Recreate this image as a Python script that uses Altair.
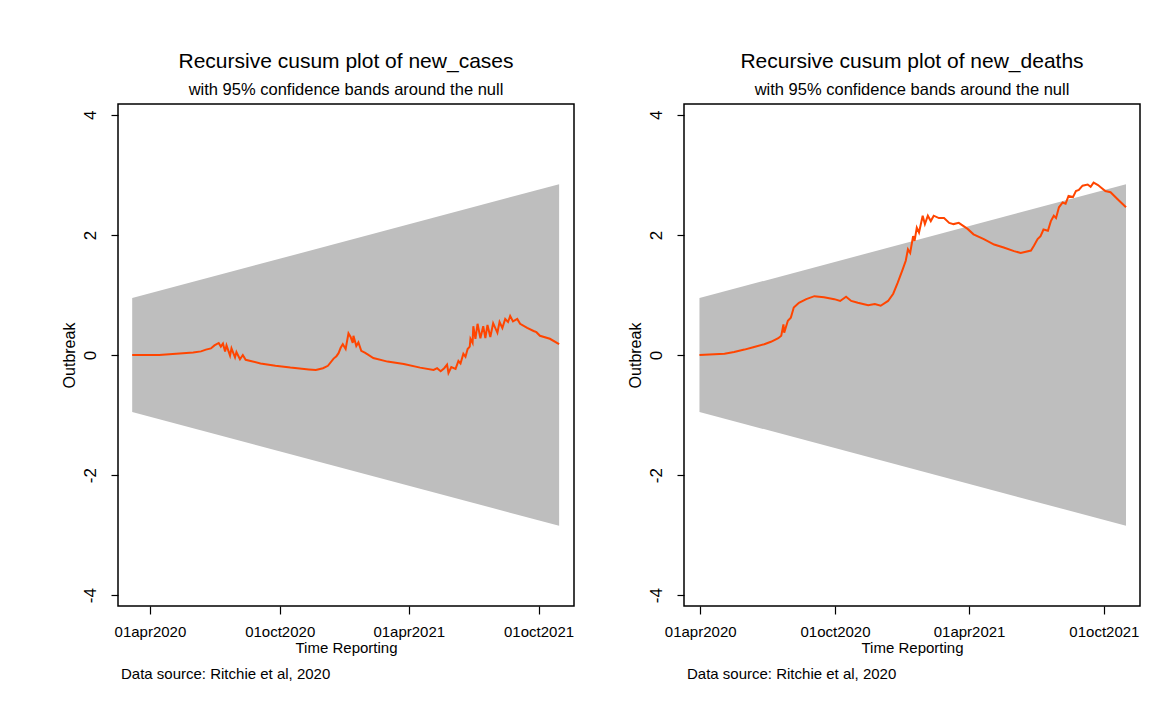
import altair as alt
import pandas as pd

FONT = "Liberation Sans, Arial, Helvetica, sans-serif"

# ---------------- data ----------------
cases_dates = [
    "2020-03-07", "2020-03-26", "2020-04-14", "2020-05-08", "2020-06-01", "2020-06-12",
    "2020-06-19", "2020-06-26", "2020-07-01", "2020-07-07", "2020-07-10", "2020-07-13",
    "2020-07-16", "2020-07-18", "2020-07-23", "2020-07-25", "2020-07-30", "2020-08-01",
    "2020-08-06", "2020-08-10", "2020-08-14", "2020-08-21", "2020-09-04", "2020-09-25",
    "2020-10-16", "2020-11-11", "2020-11-21", "2020-12-01", "2020-12-08", "2020-12-16",
    "2020-12-20", "2020-12-23", "2020-12-26", "2020-12-29", "2021-01-02", "2021-01-06",
    "2021-01-09", "2021-01-12", "2021-01-13", "2021-01-17", "2021-01-20", "2021-01-24",
    "2021-01-29", "2021-02-02", "2021-02-10", "2021-03-02", "2021-03-25", "2021-04-17",
    "2021-05-06", "2021-05-11", "2021-05-16", "2021-05-21", "2021-05-25", "2021-05-27",
    "2021-05-31", "2021-06-06", "2021-06-10", "2021-06-13", "2021-06-17", "2021-06-20",
    "2021-06-23", "2021-06-26", "2021-06-27", "2021-06-30", "2021-07-01", "2021-07-04",
    "2021-07-07", "2021-07-11", "2021-07-15", "2021-07-18", "2021-07-21", "2021-07-25",
    "2021-07-29", "2021-08-04", "2021-08-07", "2021-08-11", "2021-08-15", "2021-08-19",
    "2021-08-22", "2021-08-26", "2021-09-01", "2021-09-05", "2021-09-15", "2021-09-24",
    "2021-09-28", "2021-10-03", "2021-10-17", "2021-10-30",
]
cases_values = [
    0.00, 0.00, 0.00, 0.02, 0.04, 0.06,
    0.09, 0.11, 0.16, 0.20, 0.14, 0.19,
    0.06, 0.16, -0.01, 0.11, -0.04, 0.05,
    -0.07, 0.00, -0.08, -0.10, -0.14, -0.18,
    -0.21, -0.24, -0.25, -0.22, -0.18, -0.06,
    -0.02, 0.03, 0.12, 0.18, 0.10, 0.36,
    0.30, 0.20, 0.32, 0.15, 0.21, 0.07,
    0.04, 0.01, -0.05, -0.11, -0.15, -0.21,
    -0.25, -0.22, -0.27, -0.22, -0.16, -0.30,
    -0.20, -0.23, -0.10, -0.14, 0.02, -0.03,
    0.10, 0.14, 0.27, 0.20, 0.48, 0.27,
    0.52, 0.28, 0.48, 0.28, 0.50, 0.30,
    0.53, 0.37, 0.55, 0.45, 0.60, 0.55,
    0.65, 0.56, 0.60, 0.52, 0.45, 0.40,
    0.38, 0.32, 0.27, 0.18,
]

deaths_dates = [
    "2020-03-31", "2020-05-04", "2020-05-17", "2020-05-31", "2020-06-12", "2020-06-27",
    "2020-07-06", "2020-07-16", "2020-07-20", "2020-07-23", "2020-07-24", "2020-07-29",
    "2020-08-02", "2020-08-06", "2020-08-13", "2020-08-23", "2020-09-03", "2020-09-16",
    "2020-09-30", "2020-10-08", "2020-10-16", "2020-10-23", "2020-11-01", "2020-11-15",
    "2020-11-24", "2020-12-02", "2020-12-12", "2020-12-19", "2020-12-25", "2021-01-01",
    "2021-01-05", "2021-01-08", "2021-01-11", "2021-01-15", "2021-01-17", "2021-01-20",
    "2021-01-23", "2021-01-28", "2021-01-31", "2021-02-04", "2021-02-08", "2021-02-12",
    "2021-02-19", "2021-02-26", "2021-03-05", "2021-03-11", "2021-03-18", "2021-03-24",
    "2021-03-30", "2021-04-07", "2021-04-21", "2021-05-05", "2021-05-18", "2021-06-01",
    "2021-06-10", "2021-06-24", "2021-06-28", "2021-07-03", "2021-07-07", "2021-07-11",
    "2021-07-17", "2021-07-21", "2021-07-25", "2021-07-28", "2021-08-01", "2021-08-06",
    "2021-08-10", "2021-08-14", "2021-08-20", "2021-08-24", "2021-08-28", "2021-09-02",
    "2021-09-09", "2021-09-13", "2021-09-17", "2021-09-23", "2021-09-27", "2021-10-03",
    "2021-10-10", "2021-10-20", "2021-10-31",
]
deaths_values = [
    0.00, 0.02, 0.05, 0.09, 0.13, 0.18,
    0.22, 0.28, 0.32, 0.51, 0.37, 0.57,
    0.62, 0.79, 0.87, 0.93, 0.98, 0.96,
    0.93, 0.90, 0.97, 0.90, 0.87, 0.83,
    0.85, 0.82, 0.90, 1.02, 1.20, 1.43,
    1.57, 1.76, 1.70, 1.98, 1.90, 2.12,
    2.04, 2.32, 2.18, 2.32, 2.23, 2.32,
    2.28, 2.28, 2.20, 2.18, 2.20, 2.15,
    2.10, 2.01, 1.93, 1.84, 1.79, 1.73,
    1.70, 1.74, 1.82, 1.93, 1.98, 2.09,
    2.07, 2.23, 2.32, 2.28, 2.46, 2.54,
    2.52, 2.65, 2.63, 2.73, 2.75, 2.82,
    2.84, 2.80, 2.87, 2.83, 2.79, 2.73,
    2.71, 2.59, 2.46,
]

cases_band_dates = ["2020-03-07", "2021-10-30"]
deaths_band_dates = ["2020-03-31", "2021-10-31"]
band_upper = [0.948, 2.844]
band_lower = [-0.948, -2.844]

y_ticks = [-4, -2, 0, 2, 4]
x_tick_dates = ["2020-04-01", "2020-10-01", "2021-04-01", "2021-10-01"]
cases_domain = ["2020-02-16", "2021-11-20"]
deaths_domain = ["2020-03-10", "2021-11-19"]

titles = ["Recursive cusum plot of new_cases", "Recursive cusum plot of new_deaths"]
subtitle = "with 95% confidence bands around the null"
source_note = "Data source: Ritchie et al, 2020"


def dt(s):
    t = pd.Timestamp(s)
    return alt.DateTime(year=t.year, month=t.month, date=t.day, utc=True)


W, H = 456, 502


def panel(title, dates, values, band_dates, domain):
    band_df = pd.DataFrame({"date": band_dates, "lo": band_lower, "hi": band_upper})
    line_df = pd.DataFrame({"date": dates, "value": values})
    note_df = pd.DataFrame({"t": [source_note]})

    x_enc = alt.X(
        "date:T",
        scale=alt.Scale(type="utc", domain=[dt(domain[0]), dt(domain[1])], nice=False),
        axis=alt.Axis(
            values=[dt(d) for d in x_tick_dates],
            labelExpr="lower(utcFormat(datum.value, '%d%b%Y'))",
            title="Time Reporting",
            grid=False,
            domain=False,
            tickSize=8,
            tickColor="black",
            tickWidth=1.2,
            labelFont=FONT,
            labelFontSize=15,
            labelColor="black",
            labelPadding=10,
            labelFlush=False,
            labelOverlap=False,
            titleFont=FONT,
            titleFontSize=15,
            titleFontWeight="normal",
            titleColor="black",
            titlePadding=1,
        ),
    )
    y_enc = alt.Y(
        "lo:Q",
        scale=alt.Scale(domain=[-4.18, 4.18], nice=False, zero=False),
        axis=alt.Axis(
            values=y_ticks,
            labelExpr="'' + datum.value",
            title="Outbreak",
            grid=False,
            domain=False,
            tickSize=7,
            tickColor="black",
            tickWidth=1.2,
            labelAngle=270,
            labelAlign="center",
            labelBaseline="bottom",
            labelPadding=12,
            labelFont=FONT,
            labelFontSize=17,
            labelColor="black",
            titleFont=FONT,
            titleFontSize=16,
            titleFontWeight="normal",
            titleColor="black",
            titlePadding=4,
        ),
    )

    band = alt.Chart(band_df).mark_area(color="#BEBEBE", opacity=1).encode(
        x=x_enc, y=y_enc, y2="hi:Q"
    )
    line = alt.Chart(line_df).mark_line(color="#FF4500", strokeWidth=2).encode(
        x="date:T", y="value:Q"
    )
    note = alt.Chart(note_df).mark_text(
        align="left", baseline="middle", font=FONT, fontSize=15, color="black"
    ).encode(x=alt.value(3), y=alt.value(H + 68), text="t:N")

    return alt.layer(band, line, note).properties(
        width=W,
        height=H,
        title=alt.TitleParams(
            text=title,
            subtitle=subtitle,
            font=FONT,
            fontSize=21,
            fontWeight="normal",
            color="black",
            subtitleFont=FONT,
            subtitleFontSize=16.5,
            subtitleColor="black",
            subtitlePadding=10,
            anchor="middle",
            offset=6,
        ),
    )


left = panel(titles[0], cases_dates, cases_values, cases_band_dates, cases_domain)
right = panel(titles[1], deaths_dates, deaths_values, deaths_band_dates, deaths_domain)

chart = (
    alt.hconcat(left, right, spacing=110, bounds="flush")
    .properties(padding={"left": 60, "top": 49, "right": 10, "bottom": 10}, background="white")
    .configure_view(stroke="black", strokeWidth=1.5)
)

chart.save("out.html", embed_options={"renderer": "svg", "actions": False})
